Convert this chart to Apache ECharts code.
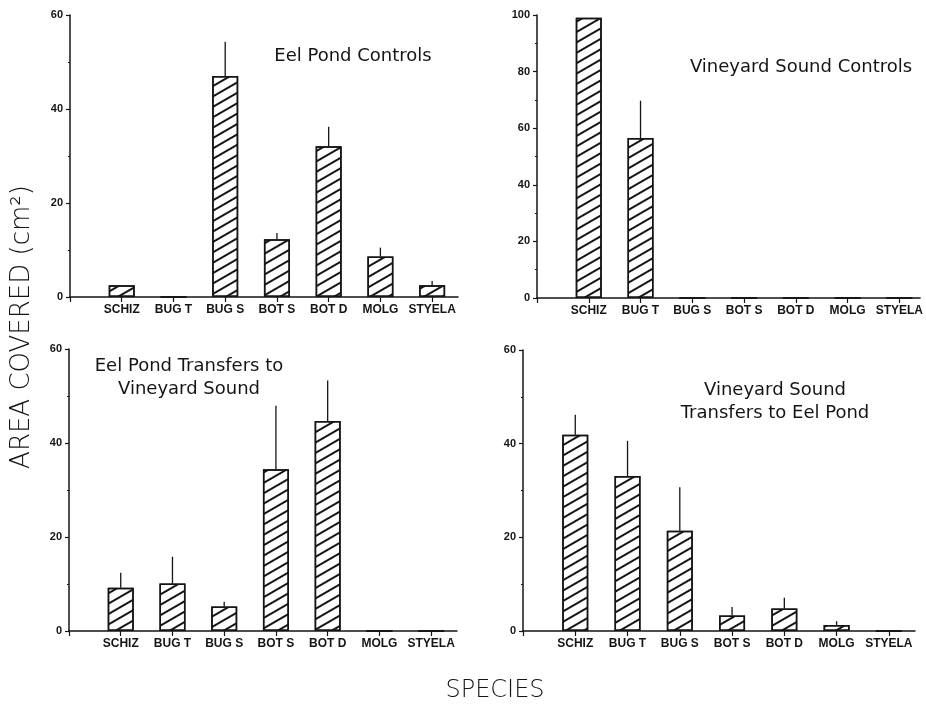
<!DOCTYPE html>
<html>
<head>
<meta charset="utf-8">
<script src="https://cdn.jsdelivr.net/npm/echarts@6/dist/echarts.min.js"></script>
<style>
  html, body { margin: 0; padding: 0; background: #fff; }
  #chart { width: 926px; height: 707px; }
</style>
</head>
<body>
<div id="chart"></div>
<script>
// Species on the horizontal axis of every panel
const categories = ['SCHIZ', 'BUG T', 'BUG S', 'BOT S', 'BOT D', 'MOLG', 'STYELA'];

// Mean area covered (cm²) and the upper error for each species
const eelControlMean = [2.5, 0, 47.0, 12.3, 32.1, 8.6, 2.5];
const eelControlErr  = [0, 0, 7.3, 1.3, 4.1, 1.9, 0.9];

const vsControlMean  = [99, 56.5, 0, 0, 0, 0, 0];
const vsControlErr   = [0, 13.2, 0, 0, 0, 0, 0];

const eelToVsMean    = [9.2, 10.1, 5.2, 34.4, 44.7, 0, 0];
const eelToVsErr     = [3.2, 5.7, 1.0, 13.5, 8.6, 0, 0];

const vsToEelMean    = [41.9, 33.1, 21.4, 3.3, 4.8, 1.3, 0];
const vsToEelErr     = [4.3, 7.5, 9.3, 1.8, 2.3, 0.8, 0];

// Panel titles
const titleEelControl = 'Eel Pond Controls';
const titleVsControl  = 'Vineyard Sound Controls';
const titleEelToVs    = 'Eel Pond Transfers to\nVineyard Sound';
const titleVsToEel    = 'Vineyard Sound\nTransfers to Eel Pond';
const yAxisTitle = 'AREA COVERED (cm²)';
const xAxisTitle = 'SPECIES';

const INK = '#151515';
const LABEL_FONT = 'Liberation Sans, Arial, sans-serif';
const TITLE_FONT = 'DejaVu Sans, sans-serif';

const panels = [
  { mean: eelControlMean, err: eelControlErr, yMax: 60,  xMax: 7.5,
    grid: { left: 70,  top: 15,  width: 388, height: 282 } },
  { mean: vsControlMean,  err: vsControlErr,  yMax: 100, xMax: 7.4,
    grid: { left: 537, top: 15,  width: 386, height: 283 } },
  { mean: eelToVsMean,    err: eelToVsErr,    yMax: 60,  xMax: 7.5,
    grid: { left: 69,  top: 349, width: 388, height: 282 } },
  { mean: vsToEelMean,    err: vsToEelErr,    yMax: 60,  xMax: 7.5,
    grid: { left: 523, top: 350, width: 392, height: 281 } }
];

// Forward-slash hatching inside the bars
const hatch = {
  symbol: 'rect',
  symbolSize: 1,
  dashArrayX: [1, 0],
  dashArrayY: [1.3, 6.2],
  rotation: -Math.PI / 6,
  color: INK
};

const catPositions = categories.map((c, i) => i + 1);

const grids = [], xAxes = [], yAxes = [], series = [];
panels.forEach((p, i) => {
  grids.push(Object.assign({ containLabel: false }, p.grid));
  xAxes.push({
    type: 'value', gridIndex: i, min: 0, max: p.xMax, interval: 1,
    splitLine: { show: false },
    axisLine: { show: true, lineStyle: { color: INK, width: 1.5 } },
    axisTick: { show: true, length: 5, inside: false, customValues: [0].concat(catPositions),
                lineStyle: { color: INK, width: 1.2 } },
    axisLabel: { customValues: catPositions, margin: 7, color: INK, fontSize: 12,
                 fontWeight: 'bold', fontFamily: LABEL_FONT,
                 formatter: v => categories[Math.round(v) - 1] || '' }
  });
  yAxes.push({
    type: 'value', gridIndex: i, min: 0, max: p.yMax, interval: 20,
    splitLine: { show: false },
    axisLine: { show: true, onZero: false, lineStyle: { color: INK, width: 1.5 } },
    axisTick: { show: true, length: 4, lineStyle: { color: INK, width: 1.2 } },
    minorTick: { show: true, splitNumber: 2, length: 2, lineStyle: { color: INK, width: 1.2 } },
    axisLabel: { margin: 7, color: INK, fontSize: 11, fontWeight: 'bold', fontFamily: LABEL_FONT }
  });
  series.push({
    type: 'bar', xAxisIndex: i, yAxisIndex: i, barWidth: 26,
    data: p.mean.map((v, k) => [catPositions[k], v]),
    itemStyle: { color: '#fff', borderColor: INK, borderWidth: 1.5, decal: hatch },
    emphasis: { disabled: true },
    animation: false
  });
  series.push({
    type: 'custom', xAxisIndex: i, yAxisIndex: i,
    data: p.mean.map((v, k) => [catPositions[k], v, p.err[k]]),
    encode: { x: 0, y: 1 },
    renderItem: (params, api) => {
      const e = api.value(2);
      if (!e) return null;
      const x = api.value(0), v = api.value(1);
      const a = api.coord([x, v]);
      const b = api.coord([x, v + e]);
      return { type: 'line', shape: { x1: a[0], y1: a[1], x2: b[0], y2: b[1] },
               style: { stroke: INK, lineWidth: 1.3 } };
    },
    animation: false
  });
});

const titleStyle = (text, x, y) => ({
  type: 'text', x: x, y: y,
  style: { text: text, fill: INK, font: 'normal 18px ' + TITLE_FONT,
           textAlign: 'center', textVerticalAlign: 'middle', lineHeight: 23 }
});

const chart = echarts.init(document.getElementById('chart'), null, { renderer: 'canvas' });
chart.setOption({
  backgroundColor: '#fff',
  animation: false,
  grid: grids,
  xAxis: xAxes,
  yAxis: yAxes,
  series: series,
  graphic: [
    titleStyle(titleEelControl, 353, 56),
    titleStyle(titleVsControl, 801, 67),
    titleStyle(titleEelToVs, 189, 378),
    titleStyle(titleVsToEel, 775, 402),
    { type: 'text', x: 22, y: 327, rotation: Math.PI / 2,
      style: { text: yAxisTitle, fill: INK, font: '200 26px ' + TITLE_FONT,
               textAlign: 'center', textVerticalAlign: 'middle' } },
    { type: 'text', x: 495, y: 691,
      style: { text: xAxisTitle, fill: INK, font: '200 24px ' + TITLE_FONT,
               textAlign: 'center', textVerticalAlign: 'middle' } }
  ]
});
</script>
</body>
</html>
